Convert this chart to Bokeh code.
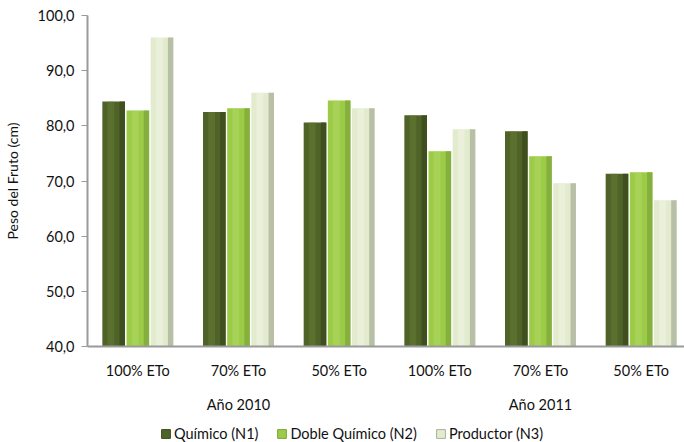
from bokeh.plotting import figure
from bokeh.layouts import column
from bokeh.models import (Range1d, FixedTicker, LinearAxis, Legend, LegendItem, ColumnDataSource)
from bokeh.embed import file_html
from bokeh.resources import INLINE

categories = ["100% ETo", "70% ETo", "50% ETo", "100% ETo", "70% ETo", "50% ETo"]
years = ["Año 2010", "Año 2011"]
series_names = ["Químico (N1)", "Doble Químico (N2)", "Productor (N3)"]
n1 = [84.4, 82.5, 80.6, 81.9, 79.0, 71.3]
n2 = [82.8, 83.2, 84.6, 75.4, 74.5, 71.6]
n3 = [96.0, 86.0, 83.2, 79.4, 69.6, 66.5]
y_ticks = [40, 50, 60, 70, 80, 90, 100]
y_tick_labels = ["40,0", "50,0", "60,0", "70,0", "80,0", "90,0", "100,0"]

FONT = "Lato"
FS = "14.5px"
TXT = "#111111"
AXC = "#9a9a9a"

p = figure(width=684, height=420, output_backend="svg", toolbar_location=None,
           x_range=Range1d(0, 599 / 101.0), y_range=Range1d(40, 100),
           min_border_left=85, min_border_right=0, min_border_top=15, min_border_bottom=74,
           x_axis_type=None, y_axis_type=None, outline_line_color=None)
p.xgrid.visible = False
p.ygrid.visible = False

x_pos = [i + 0.5 for i in range(len(categories))]
offsets = [-0.24, 0.0, 0.24]
w = 0.225
styles = [
    ("#4f6228", "#3b4a1c", "#6a8038"),
    ("#9ccb47", "#7ea73a", "#b5dc6a"),
    ("#e2ebcd", "#a9b099", "#f3f7ea"),
]
for vals, off, (base, edge, light) in zip([n1, n2, n3], offsets, styles):
    xs = [x + off for x in x_pos]
    src = ColumnDataSource(dict(x=xs, top=vals,
                                xr=[x + w * 0.38 for x in xs],
                                xl=[x - w * 0.12 for x in xs]))
    p.vbar(x="x", top="top", bottom=40, width=w, source=src,
           fill_color=base, line_color=None)
    p.vbar(x="xr", top="top", bottom=40, width=w * 0.24, source=src,
           fill_color=edge, line_color=None, fill_alpha=0.75)
    p.vbar(x="xl", top="top", bottom=40, width=w * 0.3, source=src,
           fill_color=light, line_color=None, fill_alpha=0.45)

# Y axis
yax = LinearAxis(ticker=FixedTicker(ticks=y_ticks),
                 major_label_overrides={t: l for t, l in zip(y_ticks, y_tick_labels)},
                 axis_label="Peso del Fruto (cm)")
yax.axis_line_color = AXC
yax.axis_line_width = 2
yax.major_tick_line_color = AXC
yax.major_tick_out = 6
yax.major_tick_in = 0
yax.minor_tick_line_color = None
yax.major_label_standoff = 7
yax.major_label_text_font = FONT
yax.major_label_text_font_size = FS
yax.major_label_text_color = TXT
yax.axis_label_text_font = FONT
yax.axis_label_text_font_size = "14px"
yax.axis_label_text_font_style = "normal"
yax.axis_label_text_color = TXT
yax.axis_label_standoff = 14
p.add_layout(yax, "left")

# Category axis
xax = LinearAxis(ticker=FixedTicker(ticks=x_pos),
                 major_label_overrides={x: c for x, c in zip(x_pos, categories)})
xax.axis_line_color = AXC
xax.axis_line_width = 2
xax.major_tick_line_color = None
xax.major_tick_out = 0
xax.major_tick_in = 0
xax.minor_tick_line_color = None
xax.major_label_standoff = 15
xax.major_label_text_font = FONT
xax.major_label_text_font_size = FS
xax.major_label_text_color = TXT
p.add_layout(xax, "below")

# Year axis
year_pos = [x_pos[1], x_pos[4]]
yrax = LinearAxis(ticker=FixedTicker(ticks=year_pos),
                  major_label_overrides={x: y for x, y in zip(year_pos, years)})
yrax.axis_line_color = None
yrax.major_tick_line_color = None
yrax.major_tick_out = 0
yrax.major_tick_in = 0
yrax.minor_tick_line_color = None
yrax.major_label_standoff = 14
yrax.major_label_text_font = FONT
yrax.major_label_text_font_size = FS
yrax.major_label_text_color = TXT
p.add_layout(yrax, "below")

# Legend strip (its frame is aligned with the main plot's frame)
pl = figure(width=684, height=22, output_backend="svg", toolbar_location=None,
            x_range=Range1d(0, 1), y_range=Range1d(0, 1),
            min_border_left=0, min_border_right=0, min_border_top=0, min_border_bottom=0,
            x_axis_type=None, y_axis_type=None, outline_line_color=None)
pl.xgrid.visible = False
pl.ygrid.visible = False
leg_renderers = []
for base, edge, light in styles:
    r = pl.vbar(x=[0.5], top=[0], bottom=0, width=0.0, fill_color=base, line_color=edge)
    leg_renderers.append(r)
legend = Legend(items=[LegendItem(label=n, renderers=[r]) for n, r in zip(series_names, leg_renderers)],
                orientation="horizontal", location=(73, 0),
                label_text_font=FONT, label_text_font_size=FS, label_text_color=TXT,
                glyph_width=11, glyph_height=11, label_standoff=3, spacing=18,
                padding=0, margin=0, border_line_color=None, background_fill_alpha=0,
                label_height=16)
pl.add_layout(legend, "center")

open("out.html", "w").write(file_html(column(p, pl, spacing=0), INLINE))
